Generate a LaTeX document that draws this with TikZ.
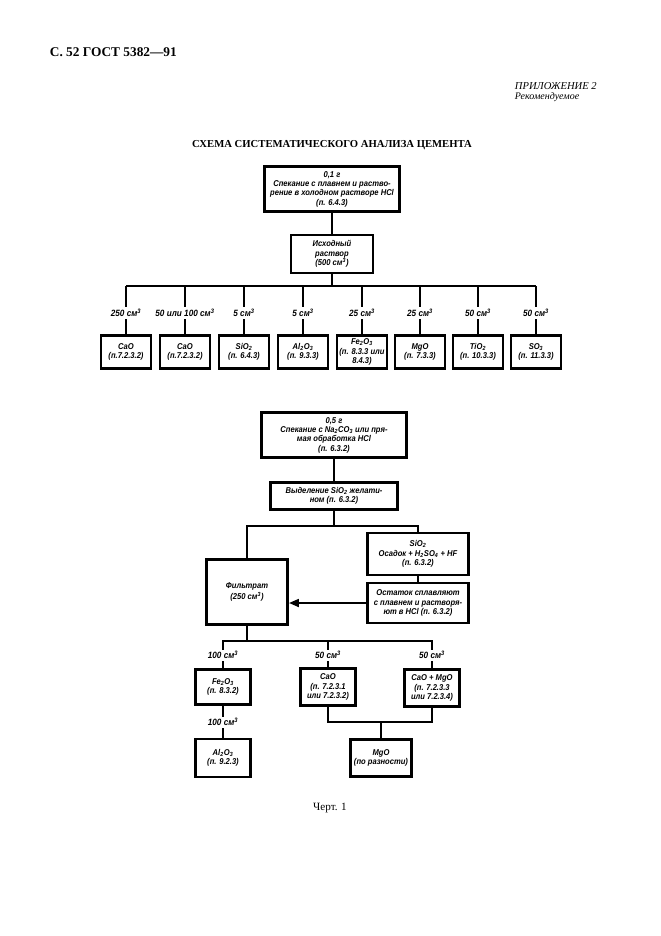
\documentclass[tikz,border=0pt]{standalone}
\usepackage{fontspec}
\setmainfont{Liberation Serif}
\newfontfamily\gost[FakeStretch=0.9]{Liberation Sans}
\usetikzlibrary{arrows.meta}

\tikzset{
  box/.style={draw, line width=2.4pt, align=center, inner sep=1pt,
    font=\gost\bfseries\itshape\fontsize{7.6}{8.4}\selectfont},
  vol/.style={fill=white, inner sep=1.5pt,
    font=\gost\bfseries\itshape\fontsize{8.2}{9}\selectfont},
  link/.style={line width=2pt},
}

\begin{document}
\begin{tikzpicture}[x=0.9pt, y=-0.9pt]
\useasboundingbox (0,0) rectangle (661,936);
%header
\node[anchor=west, font=\bfseries\fontsize{12}{14}\selectfont] (hdr) at (46,52) {С. 52 ГОСТ 5382—91};
\node[anchor=west, font=\itshape\fontsize{9.5}{11}\selectfont] (app) at (511,86) {ПРИЛОЖЕНИЕ 2};
\node[anchor=west, font=\itshape\fontsize{9}{11}\selectfont] (rec) at (511,97) {Рекомендуемое};
\node[font=\bfseries\fontsize{9.6}{12}\selectfont] (title) at (332,145) {СХЕМА СИСТЕМАТИЧЕСКОГО АНАЛИЗА ЦЕМЕНТА};

%first scheme
\node[box, minimum width=122pt, minimum height=40pt] (spek) at (332,189) {0,1 г\\Спекание с плавнем и раство-\\рение в холодном растворе HCl\\(п. 6.4.3)};
\node[box, minimum width=74pt, minimum height=34pt] (ish) at (332,254) {Исходный\\раствор\\(500 см\textsuperscript{3})};
\coordinate (tbus) at (332,286);
\draw[link] (spek) -- (ish);
\draw[link] (ish) -- (tbus);
\foreach \i/\x/\txt in {1/126/{CaO\\(п.7.2.3.2)}, 2/185/{CaO\\(п.7.2.3.2)},
    3/244/{SiO\textsubscript{2}\\(п. 6.4.3)}, 4/303/{Al\textsubscript{2}O\textsubscript{3}\\(п. 9.3.3)},
    5/362/{Fe\textsubscript{2}O\textsubscript{3}\\(п. 8.3.3 или\\8.4.3)}, 6/420/{MgO\\(п. 7.3.3)},
    7/478/{TiO\textsubscript{2}\\(п. 10.3.3)}, 8/536/{SO\textsubscript{3}\\(п. 11.3.3)}}
  \node[box, minimum width=45pt, minimum height=30pt] (r\i) at (\x,352) {\txt};
\draw[link] (r1.north |- tbus) -- (r8.north |- tbus);
\foreach \i in {1,...,8}
  \draw[link] (r\i.north |- tbus) -- (r\i.north);
\foreach \i/\amt in {1/250, 2/50 или 100, 3/5, 4/5, 5/25, 6/25, 7/50, 8/50}
  \path (r\i.north) ++(0,-21) node[vol] {\amt\ см\textsuperscript{3}};

%second scheme
\node[box, minimum width=131pt, minimum height=40pt] (spek2) at (334,435) {0,5 г\\Спекание с Na\textsubscript{2}CO\textsubscript{3} или пря-\\мая обработка HCl\\(п. 6.3.2)};
\node[box, minimum width=114pt, minimum height=24pt] (vyd) at (334,496) {Выделение SiO\textsubscript{2} желати-\\ном (п. 6.3.2)};
\coordinate (b2) at (334,526);
\node[box, minimum width=73pt, minimum height=58pt] (filt) at (247,592) {Фильтрат\\[2pt](250 см\textsuperscript{3})};
\node[box, minimum width=91pt, minimum height=38pt] (sio) at (418,554) {SiO\textsubscript{2}\\Осадок + H\textsubscript{2}SO\textsubscript{4} + HF\\(п. 6.3.2)};
\node[box, minimum width=91pt, minimum height=36pt] (ost) at (418,603) {Остаток сплавляют\\с плавнем и растворя-\\ют в HCl (п. 6.3.2)};
\draw[link] (spek2) -- (vyd);
\draw[link] (vyd) -- (b2);
\draw[link] (filt.north) |- (b2) -| (sio.north);
\draw[link] (sio) -- (ost);
\draw[link, -{Triangle[length=9pt,width=7pt]}] (ost.west) -- (ost.west -| filt.east);

%aliquots
\coordinate (b3) at (247,641);
\node[box, minimum width=49pt, minimum height=32pt] (fe) at (223,687) {Fe\textsubscript{2}O\textsubscript{3}\\(п. 8.3.2)};
\node[box, minimum width=49pt, minimum height=34pt] (al) at (223,758) {Al\textsubscript{2}O\textsubscript{3}\\(п. 9.2.3)};
\node[box, minimum width=49pt, minimum height=33pt] (cao) at (328,687) {CaO\\(п. 7.2.3.1\\или 7.2.3.2)};
\node[box, minimum width=49pt, minimum height=33pt] (camg) at (432,688) {CaO + MgO\\(п. 7.2.3.3\\или 7.2.3.4)};
\node[box, minimum width=55pt, minimum height=33pt] (mgo) at (381,758) {MgO\\(по разности)};
\coordinate (jn) at (381,722);
\draw[link] (filt.south) -- (b3);
\draw[link] (fe.north) |- (b3) -| (camg.north);
\draw[link] (cao.north) -- (cao.north |- b3);
\draw[link] (fe) -- (al);
\draw[link] (cao.south) |- (jn) -| (camg.south);
\draw[link] (jn) -- (mgo.north);
\node[vol] (v1) at (223,655) {100 см\textsuperscript{3}};
\node[vol] (v2) at (223,722) {100 см\textsuperscript{3}};
\node[vol] (v3) at (328,655) {50 см\textsuperscript{3}};
\node[vol] (v4) at (432,655) {50 см\textsuperscript{3}};

%caption
\node[font=\fontsize{10}{12}\selectfont] (cap) at (330,808) {Черт. 1};
\end{tikzpicture}
\end{document}
